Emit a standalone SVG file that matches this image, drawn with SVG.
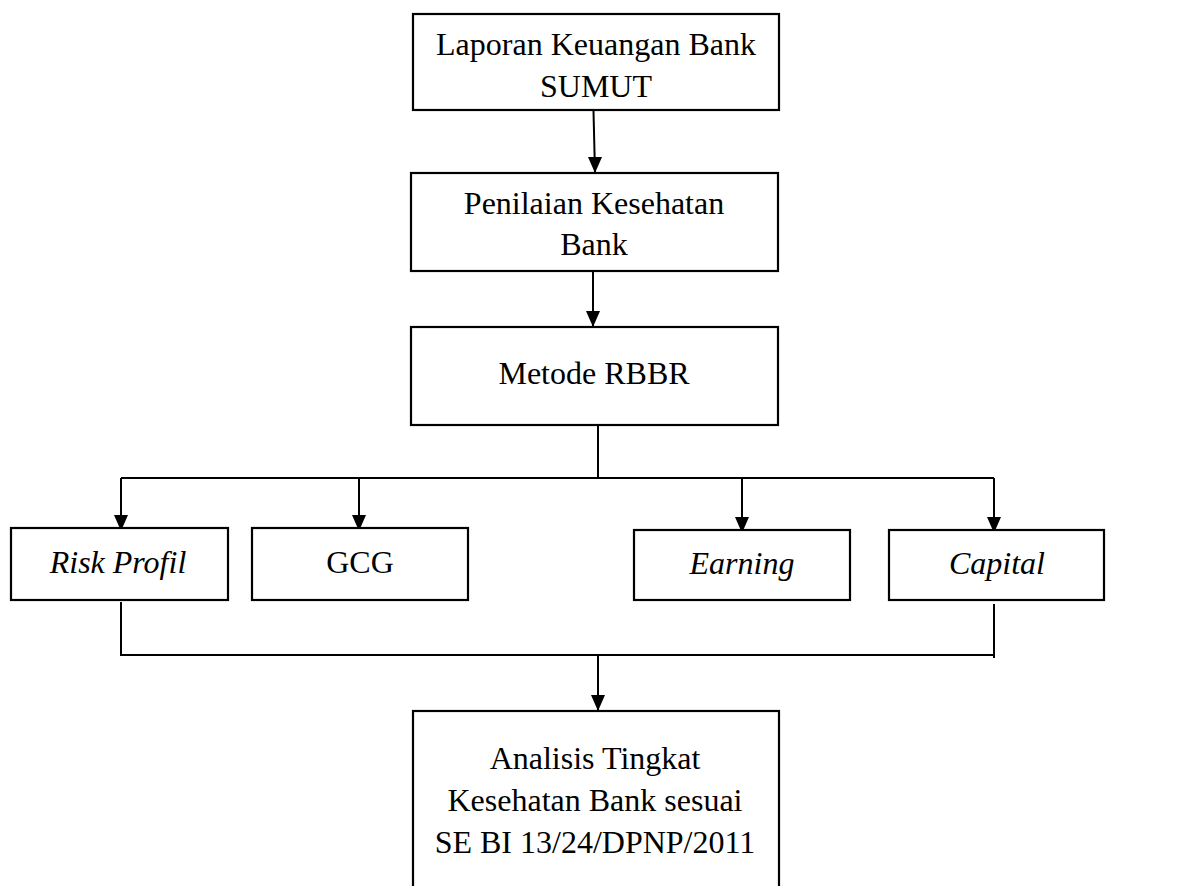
<svg xmlns="http://www.w3.org/2000/svg" width="1184" height="886" viewBox="0 0 1184 886">
<style>
.box{fill:#fff;stroke:#000;stroke-width:2.2}
.t{font-family:"Liberation Serif","Times New Roman",serif;font-size:32px;fill:#000;text-anchor:middle}
.i{font-style:italic}
.c{fill:none;stroke:#000;stroke-width:2}
</style>
<defs>
<marker id="ad" markerUnits="userSpaceOnUse" markerWidth="14" markerHeight="16" refX="7" refY="16" viewBox="0 0 14 16">
<path d="M0,0 L14,0 L7,16 Z" fill="#000"/>
</marker>
</defs>
<rect width="1184" height="886" fill="#fff"/>
<g id="connectors">
<path class="c" d="M593.5,111 L595,173" marker-end="url(#ad)"/>
<path class="c" d="M593,272 L593,327" marker-end="url(#ad)"/>
<path class="c" d="M598,426 L598,478"/>
<path class="c" d="M121,478 L994,478"/>
<path class="c" d="M121,478 L121,531" marker-end="url(#ad)"/>
<path class="c" d="M359,478 L359,531" marker-end="url(#ad)"/>
<path class="c" d="M742,478 L742,533" marker-end="url(#ad)"/>
<path class="c" d="M994,478 L994,533" marker-end="url(#ad)"/>
<path class="c" d="M121,602 L121,656"/>
<path class="c" d="M121,655 L994,655"/>
<path class="c" d="M994,604 L994,658"/>
<path class="c" d="M598,655 L598,711" marker-end="url(#ad)"/>
</g>
<g id="n1">
<rect class="box" x="413" y="14" width="366" height="96"/>
<text class="t" x="596" y="55">Laporan Keuangan Bank</text>
<text class="t" x="596" y="97">SUMUT</text>
</g>
<g id="n2">
<rect class="box" x="411" y="173" width="367" height="98"/>
<text class="t" x="594" y="214">Penilaian Kesehatan</text>
<text class="t" x="594" y="255">Bank</text>
</g>
<g id="n3">
<rect class="box" x="411" y="327" width="367" height="98"/>
<text class="t" x="594" y="384">Metode RBBR</text>
</g>
<g id="n4">
<rect class="box" x="11" y="528" width="217" height="72"/>
<text class="t i" x="118" y="573">Risk Profil</text>
</g>
<g id="n5">
<rect class="box" x="252" y="528" width="216" height="72"/>
<text class="t" x="360" y="573">GCG</text>
</g>
<g id="n6">
<rect class="box" x="634" y="530" width="216" height="70"/>
<text class="t i" x="742" y="574">Earning</text>
</g>
<g id="n7">
<rect class="box" x="889" y="530" width="215" height="70"/>
<text class="t i" x="997" y="574">Capital</text>
</g>
<g id="n8">
<rect class="box" x="413" y="711" width="366" height="200"/>
<text class="t" x="595" y="769">Analisis Tingkat</text>
<text class="t" x="595" y="811">Kesehatan Bank sesuai</text>
<text class="t" x="595" y="853">SE BI 13/24/DPNP/2011</text>
</g>
</svg>
